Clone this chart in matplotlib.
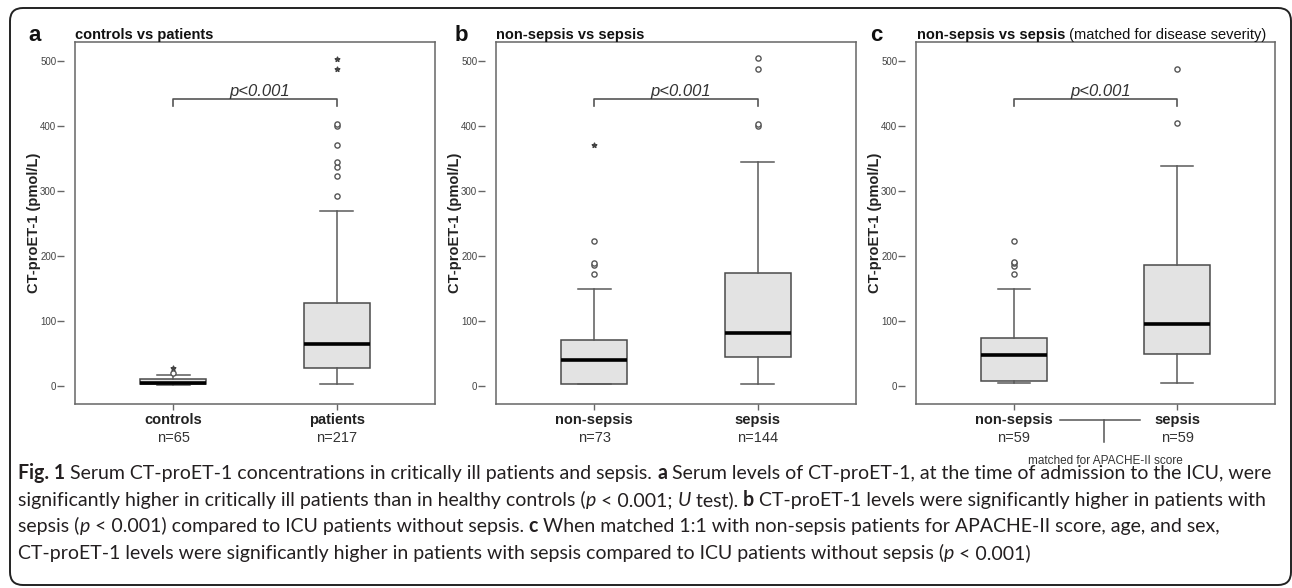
import matplotlib
matplotlib.use("Agg")
import matplotlib.pyplot as plt
from matplotlib.patches import FancyBboxPatch
from matplotlib.font_manager import FontProperties

plt.rcParams['font.family'] = ['Liberation Sans', 'DejaVu Sans']

# panel a: controls vs patients
a_names = ['controls', 'patients']
a_n = [65, 217]
a_q1 = [3, 27]
a_med = [5, 64]
a_q3 = [10, 127]
a_lo = [2, 3]
a_hi = [17, 270]
a_circles = [[20.5], [292, 324, 338, 345, 372, 401, 404]]
a_stars = [[27.5], [488, 504]]

# panel b: non-sepsis vs sepsis
b_names = ['non-sepsis', 'sepsis']
b_n = [73, 144]
b_q1 = [3, 44]
b_med = [40, 82]
b_q3 = [70, 174]
b_lo = [3, 3]
b_hi = [149, 345]
b_circles = [[173, 186, 190, 224], [401, 404, 489, 505]]
b_stars = [[372], []]

# panel c: matched for APACHE-II score
c_names = ['non-sepsis', 'sepsis']
c_n = [59, 59]
c_q1 = [8, 49]
c_med = [47, 95]
c_q3 = [74, 187]
c_lo = [5, 5]
c_hi = [150, 339]
c_circles = [[173, 185, 189, 191, 224], [405, 489]]
c_stars = [[], []]

W, H = 1292, 588
fig = plt.figure(figsize=(W / 100, H / 100), dpi=100)
renderer = fig.canvas.get_renderer()

# rounded frame around the whole figure
frame = FancyBboxPatch((0.10, 0.03), 12.81, 5.77, boxstyle="round,pad=0,rounding_size=0.13",
                       transform=fig.dpi_scale_trans, facecolor='none', edgecolor='#222222', lw=1.4)
fig.patches.append(frame)


def seg_width(text, fp):
    # width of a text piece, spaces at the ends included
    t1 = fig.text(0, 0, 'x' + text + 'x', fontproperties=fp)
    t2 = fig.text(0, 0, 'xx', fontproperties=fp)
    w = t1.get_window_extent(renderer).width - t2.get_window_extent(renderer).width
    t1.remove()
    t2.remove()
    return w


def put_segments(x_px, y_px, segments, color):
    for text, fp in segments:
        fig.text(x_px / W, 1 - y_px / H, text, fontproperties=fp, color=color, va='baseline', ha='left')
        x_px += seg_width(text, fp)


def draw_panel(rect, names, n, q1, med, q3, lo, hi, circles, stars):
    ax = fig.add_axes(rect)
    stats = []
    for i in range(len(names)):
        stats.append(dict(med=med[i], q1=q1[i], q3=q3[i], whislo=lo[i], whishi=hi[i], fliers=[]))
    ax.bxp(stats, positions=[1, 2], widths=0.4, capwidths=0.2, patch_artist=True, showfliers=False,
           boxprops=dict(facecolor='#e3e3e3', edgecolor='#4a4a4a', linewidth=1.1),
           whiskerprops=dict(color='#5a5a5a', linewidth=1.1),
           capprops=dict(color='#5a5a5a', linewidth=1.1),
           medianprops=dict(color='black', linewidth=2.6))
    for i in range(len(names)):
        ax.scatter([i + 1] * len(circles[i]), circles[i], s=14, facecolors='white',
                   edgecolors='#555555', linewidths=1.0, zorder=4)
        ax.scatter([i + 1] * len(stars[i]), stars[i], marker='*', s=12, color='#444444', zorder=4)
    ax.set_xlim(0.4, 2.6)
    ax.set_ylim(-28, 530)
    ax.set_yticks([0, 100, 200, 300, 400, 500])
    ax.set_xticks([1, 2])
    ax.set_xticklabels([])
    ax.tick_params(direction='out', length=4, width=1, color='#666666', labelsize=7, labelcolor='#444444')
    ax.tick_params(axis='y', length=5, pad=0.5)
    for s in ax.spines.values():
        s.set_color('#666666')
        s.set_linewidth(1.1)
    # y ticks sit a little away from the frame
    ax.spines['left'].set_position(('outward', 8))
    ax.spines['left'].set_color('none')
    ax.plot([0, 0], [0, 1], transform=ax.transAxes, color='#666666', lw=1.1, clip_on=False)
    ax.set_ylabel('CT-proET-1 (pmol/L)', fontsize=10.5, fontweight='bold', color='#222222')
    ax.yaxis.set_label_coords(-34 / 360, 0.5)
    tr = ax.get_xaxis_transform()
    for i in range(len(names)):
        ax.text(i + 1, -0.045, names[i], transform=tr, ha='center', va='center',
                fontsize=10.5, fontweight='bold', color='#222222')
        ax.text(i + 1, -0.095, 'n=%d' % n[i], transform=tr, ha='center', va='center',
                fontsize=10.5, color='#333333')
    # significance bracket
    ax.plot([1, 1, 2, 2], [432, 442, 442, 432], color='#555555', lw=1.2)
    ax.text(1.53, 447, 'p<0.001', style='italic', ha='center', va='baseline', fontsize=12, color='#333333')
    return ax


bottom = 1 - 404 / H
height = 362 / H
ax_a = draw_panel([75 / W, bottom, 360 / W, height], a_names, a_n, a_q1, a_med, a_q3, a_lo, a_hi,
                  a_circles, a_stars)
ax_b = draw_panel([496 / W, bottom, 360 / W, height], b_names, b_n, b_q1, b_med, b_q3, b_lo, b_hi,
                  b_circles, b_stars)
ax_c = draw_panel([916 / W, bottom, 359 / W, height], c_names, c_n, c_q1, c_med, c_q3, c_lo, c_hi,
                  c_circles, c_stars)

# matched-pairs connector under panel c
tr = ax_c.get_xaxis_transform()
ax_c.plot([1.28, 1.77], [-0.045, -0.045], transform=tr, color='#555555', lw=1.1, clip_on=False)
ax_c.plot([1.555, 1.555], [-0.045, -0.105], transform=tr, color='#555555', lw=1.1, clip_on=False)
ax_c.text(1.56, -0.158, 'matched for APACHE-II score', transform=tr, ha='center', va='center',
          fontsize=8.5, color='#333333')

# panel letters and titles
fp_letter = FontProperties(family='Liberation Sans', weight='bold', size=16)
fp_tb = FontProperties(family='Liberation Sans', weight='bold', size=10.5)
fp_tn = FontProperties(family='Liberation Sans', size=10.5)
for x, letter in [(28, 'a'), (455, 'b'), (870, 'c')]:
    fig.text(x / W, 1 - 41 / H, letter, fontproperties=fp_letter, color='#111111', va='baseline')
put_segments(75, 39, [('controls vs patients', fp_tb)], '#111111')
put_segments(496, 39, [('non-sepsis vs sepsis', fp_tb)], '#111111')
put_segments(917, 39, [('non-sepsis vs sepsis', fp_tb), (' (matched for disease severity)', fp_tn)], '#111111')

# caption
line1 = [('Fig. 1', 'b'), (' Serum CT-proET-1 concentrations in critically ill patients and sepsis. ', 'n'),
         ('a', 'b'), (' Serum levels of CT-proET-1, at the time of admission to the ICU, were', 'n')]
line2 = [('significantly higher in critically ill patients than in healthy controls (', 'n'), ('p', 'i'),
         (' < 0.001; ', 'n'), ('U', 'i'), (' test). ', 'n'), ('b', 'b'),
         (' CT-proET-1 levels were significantly higher in patients with', 'n')]
line3 = [('sepsis (', 'n'), ('p', 'i'), (' < 0.001) compared to ICU patients without sepsis. ', 'n'), ('c', 'b'),
         (' When matched 1:1 with non-sepsis patients for APACHE-II score, age, and sex,', 'n')]
line4 = [('CT-proET-1 levels were significantly higher in patients with sepsis compared to ICU patients '
          'without sepsis (', 'n'), ('p', 'i'), (' < 0.001)', 'n')]


def make_fp(kind, size):
    if kind == 'b':
        return FontProperties(family='Lato', weight='bold', size=size)
    if kind == 'i':
        return FontProperties(family='Lato', style='italic', size=size)
    return FontProperties(family='Lato', size=size)


# fit the font size so that the first line spans the same width as in the figure
w10 = sum(seg_width(t, make_fp(k, 10)) for t, k in line1)
cap_size = 10 * 1254 / w10
for y, line in zip([479, 506, 532, 559], [line1, line2, line3, line4]):
    put_segments(18, y, [(t, make_fp(k, cap_size)) for t, k in line], '#231f20')

fig.savefig('out.png', dpi=100)
